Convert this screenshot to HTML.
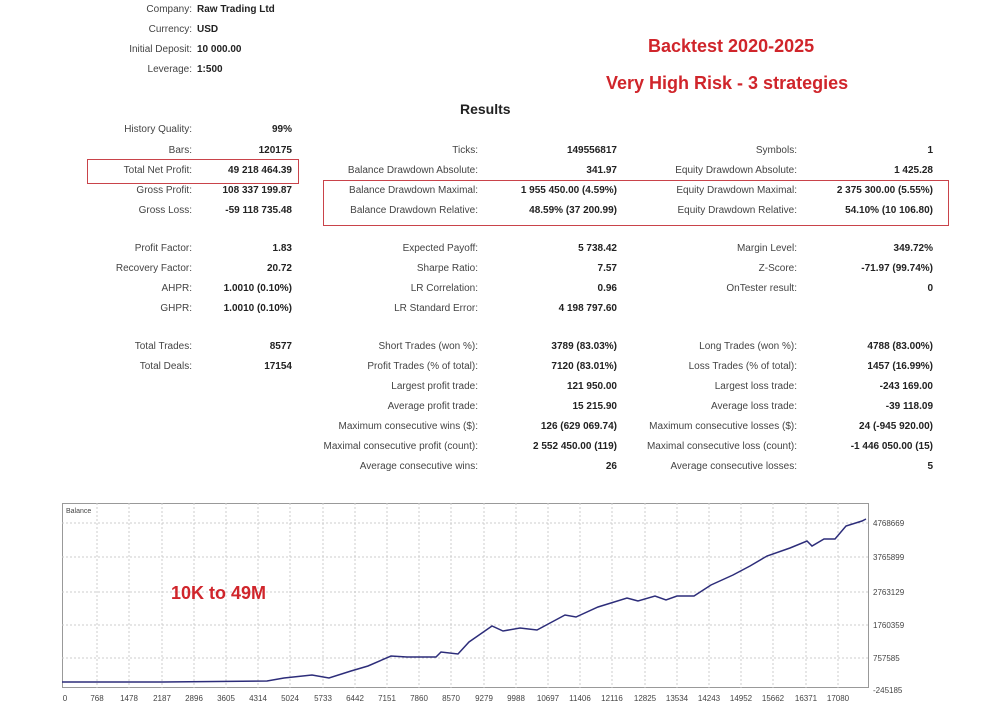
<!DOCTYPE html>
<html><head><meta charset="utf-8"><style>
body{margin:0;width:1000px;height:709px;background:#fff;position:relative;overflow:hidden;font-family:"Liberation Sans",sans-serif;color:#333}
.l,.v,.w{position:absolute;font-size:10px;line-height:12px;white-space:nowrap}
.l{text-align:right;color:#444}
.v{text-align:right;font-weight:bold;color:#222}
.w{font-weight:bold;color:#222}
.red{position:absolute;color:#d0252b;font-weight:bold;font-size:18px;white-space:nowrap}
.box{position:absolute;border:1.5px solid #c9434a}
</style></head><body>
<div class="l" style="right:808px;top:4px">Company:</div><div class="w" style="left:197px;top:4px">Raw Trading Ltd</div>
<div class="l" style="right:808px;top:24px">Currency:</div><div class="w" style="left:197px;top:24px">USD</div>
<div class="l" style="right:808px;top:44px">Initial Deposit:</div><div class="w" style="left:197px;top:44px">10 000.00</div>
<div class="l" style="right:808px;top:64px">Leverage:</div><div class="w" style="left:197px;top:64px">1:500</div>
<div class="red" style="left:648px;top:36px">Backtest 2020-2025</div>
<div class="red" style="left:606px;top:73px">Very High Risk - 3 strategies</div>
<div style="position:absolute;left:460px;top:101px;font-weight:bold;font-size:14px;color:#222">Results</div>

<div class="l" style="right:808px;top:124px">History Quality:</div><div class="v" style="right:708px;top:124px">99%</div>
<div class="l" style="right:808px;top:145px">Bars:</div><div class="v" style="right:708px;top:145px">120175</div>
<div class="l" style="right:808px;top:165px">Total Net Profit:</div><div class="v" style="right:708px;top:165px">49 218 464.39</div>
<div class="l" style="right:808px;top:185px">Gross Profit:</div><div class="v" style="right:708px;top:185px">108 337 199.87</div>
<div class="l" style="right:808px;top:205px">Gross Loss:</div><div class="v" style="right:708px;top:205px">-59 118 735.48</div>
<div class="l" style="right:808px;top:243px">Profit Factor:</div><div class="v" style="right:708px;top:243px">1.83</div>
<div class="l" style="right:808px;top:263px">Recovery Factor:</div><div class="v" style="right:708px;top:263px">20.72</div>
<div class="l" style="right:808px;top:283px">AHPR:</div><div class="v" style="right:708px;top:283px">1.0010 (0.10%)</div>
<div class="l" style="right:808px;top:303px">GHPR:</div><div class="v" style="right:708px;top:303px">1.0010 (0.10%)</div>
<div class="l" style="right:808px;top:341px">Total Trades:</div><div class="v" style="right:708px;top:341px">8577</div>
<div class="l" style="right:808px;top:361px">Total Deals:</div><div class="v" style="right:708px;top:361px">17154</div>

<div class="l" style="right:522px;top:145px">Ticks:</div><div class="v" style="right:383px;top:145px">149556817</div>
<div class="l" style="right:522px;top:165px">Balance Drawdown Absolute:</div><div class="v" style="right:383px;top:165px">341.97</div>
<div class="l" style="right:522px;top:185px">Balance Drawdown Maximal:</div><div class="v" style="right:383px;top:185px">1 955 450.00 (4.59%)</div>
<div class="l" style="right:522px;top:205px">Balance Drawdown Relative:</div><div class="v" style="right:383px;top:205px">48.59% (37 200.99)</div>
<div class="l" style="right:522px;top:243px">Expected Payoff:</div><div class="v" style="right:383px;top:243px">5 738.42</div>
<div class="l" style="right:522px;top:263px">Sharpe Ratio:</div><div class="v" style="right:383px;top:263px">7.57</div>
<div class="l" style="right:522px;top:283px">LR Correlation:</div><div class="v" style="right:383px;top:283px">0.96</div>
<div class="l" style="right:522px;top:303px">LR Standard Error:</div><div class="v" style="right:383px;top:303px">4 198 797.60</div>
<div class="l" style="right:522px;top:341px">Short Trades (won %):</div><div class="v" style="right:383px;top:341px">3789 (83.03%)</div>
<div class="l" style="right:522px;top:361px">Profit Trades (% of total):</div><div class="v" style="right:383px;top:361px">7120 (83.01%)</div>
<div class="l" style="right:522px;top:381px">Largest profit trade:</div><div class="v" style="right:383px;top:381px">121 950.00</div>
<div class="l" style="right:522px;top:401px">Average profit trade:</div><div class="v" style="right:383px;top:401px">15 215.90</div>
<div class="l" style="right:522px;top:421px">Maximum consecutive wins ($):</div><div class="v" style="right:383px;top:421px">126 (629 069.74)</div>
<div class="l" style="right:522px;top:441px">Maximal consecutive profit (count):</div><div class="v" style="right:383px;top:441px">2 552 450.00 (119)</div>
<div class="l" style="right:522px;top:461px">Average consecutive wins:</div><div class="v" style="right:383px;top:461px">26</div>

<div class="l" style="right:203px;top:145px">Symbols:</div><div class="v" style="right:67px;top:145px">1</div>
<div class="l" style="right:203px;top:165px">Equity Drawdown Absolute:</div><div class="v" style="right:67px;top:165px">1 425.28</div>
<div class="l" style="right:203px;top:185px">Equity Drawdown Maximal:</div><div class="v" style="right:67px;top:185px">2 375 300.00 (5.55%)</div>
<div class="l" style="right:203px;top:205px">Equity Drawdown Relative:</div><div class="v" style="right:67px;top:205px">54.10% (10 106.80)</div>
<div class="l" style="right:203px;top:243px">Margin Level:</div><div class="v" style="right:67px;top:243px">349.72%</div>
<div class="l" style="right:203px;top:263px">Z-Score:</div><div class="v" style="right:67px;top:263px">-71.97 (99.74%)</div>
<div class="l" style="right:203px;top:283px">OnTester result:</div><div class="v" style="right:67px;top:283px">0</div>
<div class="l" style="right:203px;top:341px">Long Trades (won %):</div><div class="v" style="right:67px;top:341px">4788 (83.00%)</div>
<div class="l" style="right:203px;top:361px">Loss Trades (% of total):</div><div class="v" style="right:67px;top:361px">1457 (16.99%)</div>
<div class="l" style="right:203px;top:381px">Largest loss trade:</div><div class="v" style="right:67px;top:381px">-243 169.00</div>
<div class="l" style="right:203px;top:401px">Average loss trade:</div><div class="v" style="right:67px;top:401px">-39 118.09</div>
<div class="l" style="right:203px;top:421px">Maximum consecutive losses ($):</div><div class="v" style="right:67px;top:421px">24 (-945 920.00)</div>
<div class="l" style="right:203px;top:441px">Maximal consecutive loss (count):</div><div class="v" style="right:67px;top:441px">-1 446 050.00 (15)</div>
<div class="l" style="right:203px;top:461px">Average consecutive losses:</div><div class="v" style="right:67px;top:461px">5</div>

<div class="box" style="left:87px;top:159px;width:210px;height:23px"></div>
<div class="box" style="left:323px;top:180px;width:624px;height:44px"></div>

<svg style="position:absolute;left:0;top:0" width="1000" height="709" font-family="Liberation Sans, sans-serif" font-size="8" fill="#444">
<rect x="62.5" y="503.5" width="806" height="184" fill="#fff" stroke="#999"/>
<g stroke="#ccc" stroke-dasharray="2,2">
<line x1="62" x2="868" y1="523" y2="523"/><line x1="62" x2="868" y1="557" y2="557"/><line x1="62" x2="868" y1="592" y2="592"/><line x1="62" x2="868" y1="625" y2="625"/><line x1="62" x2="868" y1="658" y2="658"/>
<line x1="97" x2="97" y1="503" y2="688"/><line x1="129" x2="129" y1="503" y2="688"/><line x1="162" x2="162" y1="503" y2="688"/><line x1="194" x2="194" y1="503" y2="688"/><line x1="226" x2="226" y1="503" y2="688"/><line x1="258" x2="258" y1="503" y2="688"/><line x1="290" x2="290" y1="503" y2="688"/><line x1="323" x2="323" y1="503" y2="688"/><line x1="355" x2="355" y1="503" y2="688"/><line x1="387" x2="387" y1="503" y2="688"/><line x1="419" x2="419" y1="503" y2="688"/><line x1="451" x2="451" y1="503" y2="688"/><line x1="484" x2="484" y1="503" y2="688"/><line x1="516" x2="516" y1="503" y2="688"/><line x1="548" x2="548" y1="503" y2="688"/><line x1="580" x2="580" y1="503" y2="688"/><line x1="612" x2="612" y1="503" y2="688"/><line x1="645" x2="645" y1="503" y2="688"/><line x1="677" x2="677" y1="503" y2="688"/><line x1="709" x2="709" y1="503" y2="688"/><line x1="741" x2="741" y1="503" y2="688"/><line x1="773" x2="773" y1="503" y2="688"/><line x1="806" x2="806" y1="503" y2="688"/><line x1="838" x2="838" y1="503" y2="688"/>
</g>
<text x="66" y="513" font-size="7">Balance</text>
<polyline fill="none" stroke="#2d2d7a" stroke-width="1.5" points="62,682 163,682 267,681 284,678 312,675 329,678 351,671 368,666 391,656 407,657 436,657 441,652 458,654 469,642 492,626 503,631 520,628 537,630 565,615 576,617 598,607 627,598 638,601 655,596 666,600 677,596 694,596 711,585 733,575 750,566 767,556 790,548 807,541 812,546 824,539 835,539 846,526 862,521 866,519"/>
<g>
<text x="873" y="526">4768669</text><text x="873" y="560">3765899</text><text x="873" y="595">2763129</text><text x="873" y="628">1760359</text><text x="873" y="661">757585</text><text x="873" y="693">-245185</text>
</g>
<g text-anchor="middle">
<text x="65" y="701">0</text><text x="97" y="701">768</text><text x="129" y="701">1478</text><text x="162" y="701">2187</text><text x="194" y="701">2896</text><text x="226" y="701">3605</text><text x="258" y="701">4314</text><text x="290" y="701">5024</text><text x="323" y="701">5733</text><text x="355" y="701">6442</text><text x="387" y="701">7151</text><text x="419" y="701">7860</text><text x="451" y="701">8570</text><text x="484" y="701">9279</text><text x="516" y="701">9988</text><text x="548" y="701">10697</text><text x="580" y="701">11406</text><text x="612" y="701">12116</text><text x="645" y="701">12825</text><text x="677" y="701">13534</text><text x="709" y="701">14243</text><text x="741" y="701">14952</text><text x="773" y="701">15662</text><text x="806" y="701">16371</text><text x="838" y="701">17080</text>
</g>
<text x="171" y="599" font-size="18" font-weight="bold" fill="#d0252b">10K to 49M</text>
</svg>
</body></html>
